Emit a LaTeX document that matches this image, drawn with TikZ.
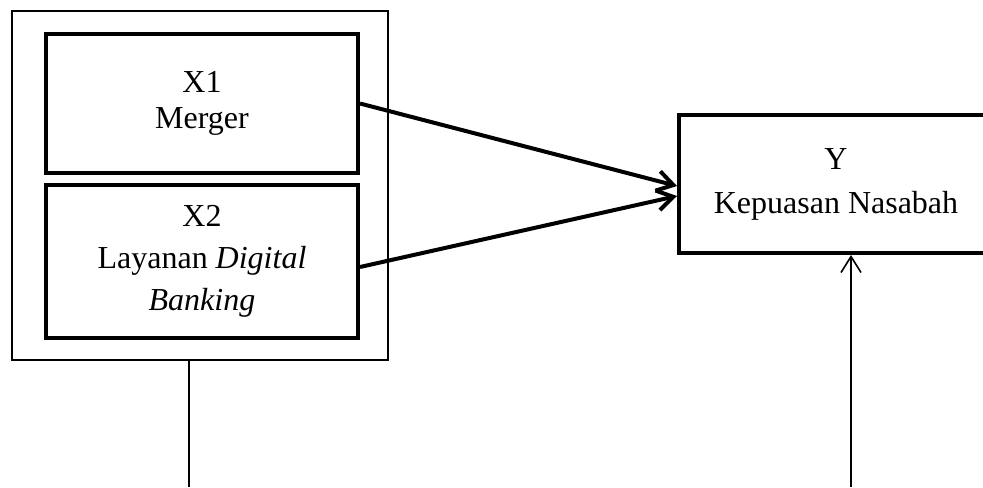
\documentclass[tikz,border=0pt]{standalone}
\usepackage{fontspec}
\setmainfont{Liberation Serif}
\usetikzlibrary{arrows.meta,positioning}

\begin{document}
\begin{tikzpicture}[x=0.5pt, y=-0.5pt, font=\fontsize{16}{18}\selectfont,
  box/.style={draw, line width=2pt, align=center, minimum width=156pt, inner sep=0pt},
  frame/.style={draw, line width=0.75pt, minimum width=188pt, minimum height=174.5pt},
  smallarrow/.style={line width=0.8pt, -{Straight Barb[length=8pt,width=10pt]}},
  bigarrow/.style={line width=2pt, -{Straight Barb[length=8pt,width=10pt]}}]
  \useasboundingbox (0,0) rectangle (983,487);
  \clip (0,0) rectangle (983,487);
  \node[frame] (outer) at (200,185.5) {};
  \node[box, minimum height=69.5pt] (x1) at (202,103.5) {X1\\Merger};
  \node[box, minimum height=76.5pt] (x2) at (202,261.5) {X2\\[3pt]Layanan \textit{Digital}\\[3pt]\textit{Banking}};
  \node[box, minimum width=157pt, minimum height=69pt] (y) at (836,184) {Y\\[4pt]Kepuasan Nasabah};
  \coordinate (lo) at (189,487);
  \coordinate (ro) at (851,487);
  \draw[bigarrow] (x1.east) -- ([yshift=-1pt]y.west);
  \draw[bigarrow] ([yshift=-2.75pt]x2.east) -- ([yshift=-6pt]y.west);
  \draw[line width=0.8pt] (outer.south -| lo) -- (lo);
  \draw[smallarrow] (ro) -- (ro |- y.south);
\end{tikzpicture}
\end{document}
